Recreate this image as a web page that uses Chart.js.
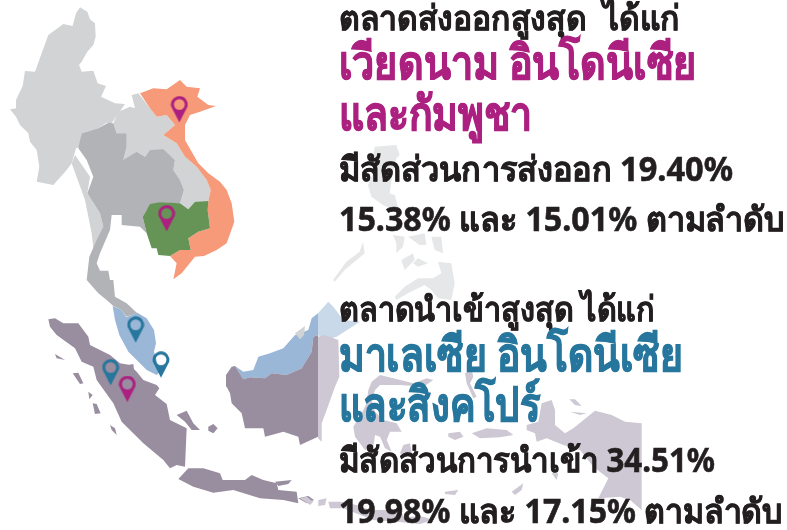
<!DOCTYPE html>
<html lang="th"><head><meta charset="utf-8">
<style>
html,body{margin:0;padding:0;background:#fff;width:787px;height:530px;overflow:hidden}
#wrap{position:relative;width:787px;height:530px}
canvas{position:absolute;left:0;top:0}
.t{position:absolute;left:339px;white-space:pre;font-family:"Noto Sans","Open Sans","DejaVu Sans",sans-serif;font-weight:700;line-height:1;transform-origin:0 0;color:#231f20}
</style></head><body>
<div id="wrap"><canvas id="c" width="787" height="530"></canvas><div id="txt"></div></div>
<script src="https://cdn.jsdelivr.net/npm/chart.js@4/dist/chart.umd.min.js"></script>
<script>
// Market data
const exportMarkets=["เวียดนาม","อินโดนีเซีย","กัมพูชา"];
const exportShares=[19.40,15.38,15.01];
const importMarkets=["มาเลเซีย","อินโดนีเซีย","สิงคโปร์"];
const importShares=[34.51,19.98,17.15];
// Pin positions on the map grid (3 grid units = 1 reference pixel)
const exportPins=[[538,328],[500,655],[382,1167]];
const importPins=[[407,989],[332,1117],[483,1094]];
// Helpers translate crop-read outlines onto the map grid
const at=(ox,oy,p)=>p.map(([x,y])=>[x+ox,y+oy]);
const low=p=>at(0,840,p), mid=p=>at(900,960,p), phl=p=>at(954,390,p), east=p=>at(1440,1110,p);
// Outlines
const myanmar=[[240,22],[262,35],[270,58],[285,70],[287,110],[280,135],[262,155],[245,185],[237,195],[245,215],[280,212],[293,250],[318,258],[303,290],[345,310],[375,312],[352,345],[335,370],[320,368],[295,385],[245,400],[240,440],[228,445],[215,490],[200,510],[160,555],[110,545],[118,500],[110,450],[90,425],[85,400],[60,375],[48,350],[30,328],[50,325],[48,300],[68,258],[75,213],[105,215],[125,160],[145,105],[190,72],[218,78],[228,40]];
const myanmarTail=[[225,465],[270,530],[262,580],[300,640],[310,680],[322,710],[282,762],[275,700],[255,600],[215,490]];
const laos=[[395,285],[415,280],[450,325],[470,350],[500,345],[525,375],[490,405],[530,430],[555,470],[590,500],[620,540],[632,570],[625,603],[585,605],[565,628],[540,610],[552,570],[540,540],[520,510],[525,480],[490,450],[450,450],[435,470],[410,455],[375,482],[370,480],[380,440],[380,400],[350,400],[340,370],[355,335],[390,320],[405,325]];
const thailand=[[325,368],[340,370],[350,400],[380,400],[380,440],[370,480],[410,455],[435,470],[450,450],[490,448],[525,480],[520,510],[540,540],[552,570],[540,610],[480,608],[440,630],[428,650],[440,700],[420,680],[365,675],[365,645],[335,645],[330,690],[322,708],[300,760],[290,790],[300,812],[325,812],[330,840],[340,840],[345,890],[380,910],[412,940],[378,950],[365,930],[340,918],[320,900],[295,880],[260,840],[268,770],[290,720],[310,680],[300,640],[262,580],[280,530],[260,480],[235,445],[245,400],[295,385]];
const cambodia=[[450,612],[480,607],[540,610],[565,628],[585,605],[625,603],[623,630],[630,685],[595,695],[565,715],[572,750],[540,750],[510,768],[475,765],[470,745],[455,745],[440,700],[428,650],[440,630]];
const vietnam=[[420,280],[460,265],[500,268],[540,240],[560,260],[600,265],[592,290],[625,315],[648,318],[600,335],[570,345],[555,375],[555,420],[575,455],[595,490],[625,520],[660,545],[680,570],[695,610],[703,665],[680,730],[650,750],[612,768],[585,770],[545,820],[520,838],[530,790],[510,768],[540,750],[572,750],[565,715],[595,695],[630,685],[623,630],[625,603],[632,570],[620,540],[590,500],[555,470],[530,430],[490,405],[525,375],[500,345],[470,350],[450,325]];
const malaya=low([[338,78],[365,90],[378,112],[412,98],[440,115],[462,150],[468,190],[462,215],[480,275],[470,285],[440,270],[410,240],[385,215],[358,165],[345,120]]);
const sarawak=low([[705,258],[730,275],[760,270],[775,230],[810,220],[850,205],[885,165],[925,150],[935,115],[954,100],[954,165],[940,170],[935,215],[905,265],[860,285],[815,280],[795,295],[750,292],[730,298]]);
const sabahLight=[[954,940],[985,905],[1000,920],[1030,960],[1080,965],[1010,1010],[975,1020],[954,1005]];
const brunei=low([[885,160],[915,138],[912,165],[900,178]]);
const kalimantan=low([[705,258],[730,298],[750,292],[795,295],[815,280],[860,285],[905,265],[935,215],[940,170],[954,165],[954,470],[900,495],[895,470],[850,455],[795,470],[790,445],[735,445],[725,400],[695,370],[690,340],[680,320],[678,285],[695,260]]);
const kalimantanLight=mid([[54,50],[75,45],[115,60],[118,170],[105,200],[80,270],[65,310],[65,365],[54,355]]);
const sumatra=low([[145,118],[165,115],[190,130],[235,130],[265,170],[270,195],[330,225],[360,250],[390,255],[410,275],[430,300],[470,315],[478,325],[465,345],[500,372],[510,420],[560,445],[555,560],[530,555],[510,565],[490,540],[430,490],[365,425],[340,370],[290,300],[280,260],[245,245],[225,205],[170,165],[150,140]]);
const java=low([[535,597],[565,565],[610,565],[660,580],[668,600],[735,600],[755,585],[790,600],[830,610],[835,630],[890,635],[895,670],[850,660],[780,655],[700,630],[640,638],[580,620]]);
const madura=low([[825,605],[875,600],[865,612],[835,618]]);
const bali=low([[895,655],[925,648],[942,660],[920,670]]);
const bangka=low([[530,405],[560,392],[580,430],[600,450],[575,450],[555,425]]);
const belitung=low([[625,440],[640,432],[653,445],[640,460],[625,452]]);
const riau=low([[385,255],[400,252],[402,268],[388,268]]);
const simeulue=low([[165,222],[195,240],[170,235]]);
const nias=low([[218,280],[235,278],[250,310],[240,312]]);
const batu=low([[265,335],[278,345],[268,358]]);
const siberut=low([[278,370],[290,372],[302,400],[285,402]]);
const pagai=low([[330,435],[345,445],[350,465],[335,450]]);
const sulawesi=mid([[205,210],[215,185],[240,165],[280,175],[340,190],[380,175],[400,180],[370,200],[300,195],[240,195],[225,210],[215,240],[225,275],[250,300],[290,310],[305,335],[270,335],[260,360],[275,395],[255,385],[240,350],[225,345],[220,380],[195,390],[165,350],[160,320],[185,280],[200,250]]);
const buton=mid([[310,375],[330,370],[335,400],[320,410],[300,400]]);
const halmahera=mid([[495,160],[515,150],[520,170],[510,190],[530,230],[520,235],[500,190]]);
const seram=mid([[515,340],[560,325],[620,330],[640,345],[600,352],[540,355]]);
const buru=mid([[445,340],[480,335],[490,350],[465,360],[445,350]]);
const lombok=mid([[0,535],[20,530],[40,545],[30,555]]);
const sumbawa=mid([[55,540],[80,535],[75,555],[55,558]]);
const flores=mid([[85,545],[120,545],[170,555],[210,570],[260,570],[300,565],[310,590],[370,590],[400,600],[360,612],[290,605],[220,600],[130,565],[90,565]]);
const wetar=mid([[435,515],[475,510],[465,525],[435,522]]);
const papua=east([[140,165],[175,155],[185,100],[215,90],[225,120],[225,165],[255,190],[280,175],[345,122],[395,135],[435,155],[485,160],[485,420],[450,390],[420,380],[355,385],[385,325],[340,290],[300,240],[250,225],[200,205],[170,215],[165,190],[140,180]]);
const biak=east([[268,88],[285,88],[305,108],[285,105]]);
const yapen=east([[270,125],[320,130],[300,135]]);
const aru=east([[215,310],[235,310],[230,330]]);
const kei=east([[95,365],[130,340],[125,360],[105,375]]);
const luzon=phl([[170,50],[235,45],[245,75],[235,85],[222,140],[215,190],[230,195],[245,250],[225,240],[195,225],[160,200],[150,165],[175,110],[165,85]]);
const palawan=phl([[135,335],[140,370],[80,420],[50,455],[45,450],[85,395],[125,365]]);
const mindoro=phl([[225,315],[260,320],[255,350],[235,370],[235,340]]);
const cebu=phl([[270,320],[320,310],[325,345],[305,345]]);
const bohol=phl([[300,385],[330,400],[300,410],[285,400]]);
const samar=phl([[340,320],[370,320],[375,370],[350,360]]);
const panay=phl([[250,390],[285,370],[290,390],[260,420]]);
const mindanao=phl([[360,395],[400,400],[410,460],[400,510],[360,505],[340,480],[320,465],[270,490],[235,510],[230,500],[260,470],[300,445],[345,445],[370,430]]);

const regions=[
 [myanmar,"#d1d3d4"],[myanmarTail,"#d1d3d4"],[laos,"#d1d3d4"],[thailand,"#b1b3b6"],
 [vietnam,"#f79a79"],[cambodia,"#669457"],
 [malaya,"#9ab7d7"],[sarawak,"#9ab7d7"],[sabahLight,"#c9d9ea"],[brunei,"#d1d3d4"],
 [kalimantan,"#998da0"],[kalimantanLight,"#cdc8d3"],[sumatra,"#998da0"],[java,"#998da0"],[madura,"#998da0"],[bali,"#998da0"],
 [bangka,"#998da0"],[belitung,"#998da0"],[riau,"#998da0"],[simeulue,"#998da0"],[nias,"#998da0"],[batu,"#998da0"],[siberut,"#998da0"],[pagai,"#998da0"],
 [sulawesi,"#cdc8d3"],[buton,"#cdc8d3"],[halmahera,"#cdc8d3"],[seram,"#cdc8d3"],[buru,"#cdc8d3"],[lombok,"#cdc8d3"],[sumbawa,"#cdc8d3"],[flores,"#cdc8d3"],[wetar,"#cdc8d3"],
 [papua,"#cdc8d3"],[biak,"#cdc8d3"],[yapen,"#cdc8d3"],[aru,"#cdc8d3"],[kei,"#cdc8d3"],
 [luzon,"#e6e7e8"],[palawan,"#e6e7e8"],[mindoro,"#e6e7e8"],[cebu,"#e6e7e8"],[bohol,"#e6e7e8"],[samar,"#e6e7e8"],[panay,"#e6e7e8"],[mindanao,"#e6e7e8"]
];
function pinStyle(color){
  const c=document.createElement('canvas');c.width=18;c.height=27;
  const g=c.getContext('2d');g.fillStyle=color;
  g.beginPath();g.arc(9,8.6,8.4,Math.PI*0.92,Math.PI*0.08);g.lineTo(9,26.6);g.closePath();g.fill();
  g.globalCompositeOperation='destination-out';
  g.beginPath();g.arc(9,8.6,5.4,0,Math.PI*2);g.fill();
  return c;
}
const toPts=p=>p.map(([x,y])=>({x,y}));
const datasets=[
 {label:"ตลาดส่งออกสูงสุด",data:toPts(exportPins),pointStyle:pinStyle("#ac2080"),showLine:false,order:0},
 {label:"ตลาดนำเข้าสูงสุด",data:toPts(importPins),pointStyle:pinStyle("#26769d"),showLine:false,order:0},
 ...regions.map(([p,col],i)=>({label:"region"+i,data:toPts(p),showLine:true,fill:'shape',backgroundColor:col,borderColor:col,borderWidth:0,pointRadius:0,tension:0,order:regions.length-i}))
];
new Chart(document.getElementById('c'),{type:'scatter',data:{datasets},options:{
 responsive:false,animation:false,layout:{padding:0,autoPadding:false},
 plugins:{legend:{display:false},tooltip:{enabled:false},title:{display:false}},
 scales:{x:{type:'linear',display:false,min:0,max:2361},y:{type:'linear',display:false,min:0,max:1590,reverse:true}}
}});
// Text
const pct=v=>v.toFixed(2)+"%";
const lines=[
 ["ตลาดส่งออกสูงสุด  ได้แก่",30,34,341,"#231f20"],
 [exportMarkets[0]+" "+exportMarkets[1],80,47,358,"#ac2080"],
 ["และ"+exportMarkets[2],131,47,193,"#ac2080"],
 ["มีสัดส่วนการส่งออก "+pct(exportShares[0]),181,34,394,"#231f20"],
 [pct(exportShares[1])+" และ "+pct(exportShares[2])+" ตามลำดับ",231,34,446,"#231f20"],
 ["ตลาดนำเข้าสูงสุด ได้แก่",321,34,316,"#231f20"],
 [importMarkets[0]+" "+importMarkets[1],372,47,344,"#26769d"],
 ["และ"+importMarkets[2],422,47,201,"#26769d"],
 ["มีสัดส่วนการนำเข้า "+pct(importShares[0]),472,34,376,"#231f20"],
 [pct(importShares[1])+" และ "+pct(importShares[2])+" ตามลำดับ",523,34,444,"#231f20"]
];
const box=document.getElementById('txt');
lines.forEach(([s,base,size,w,col])=>{
  const d=document.createElement('div');d.className='t';d.textContent=s;
  d.style.fontSize=size+'px';d.style.color=col;
  d.style.webkitTextStroke=(size>40?1:0.6)+'px '+col;
  box.appendChild(d);
  const fm=d.getBoundingClientRect();
  d.style.top=(base-size*0.888)+'px';
  d.style.transform='scaleX('+(w/fm.width)+')';
});
</script></body></html>
